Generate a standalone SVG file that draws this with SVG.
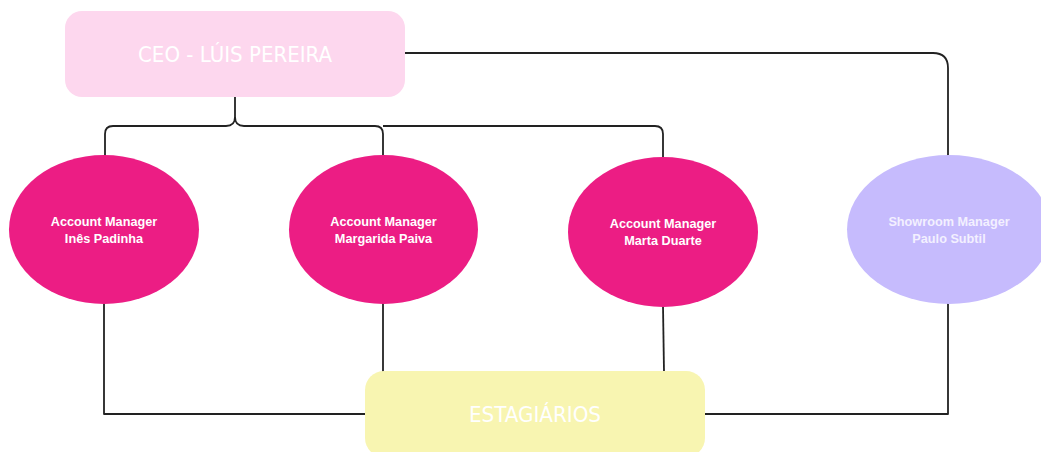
<svg xmlns="http://www.w3.org/2000/svg" width="1041" height="452" viewBox="0 0 1041 452">
  <style>
    .wire { fill: none; stroke: #222222; stroke-width: 1.8; stroke-linejoin: round; }
    .box-title { font-family: "Liberation Sans Narrow", "DejaVu Sans Condensed", "DejaVu Sans", sans-serif; fill: #ffffff; text-anchor: middle; }
    .role { font-family: "Liberation Sans", "Arial", sans-serif; font-weight: 700; font-size: 12.7px; text-anchor: middle; }
    .pink { fill: #ec1d84; }
    .lilac { fill: #c6bbfd; }
  </style>

  <!-- connectors -->
  <g id="connectors">
    <!-- CEO brace down to the three account managers -->
    <path class="wire" d="M235 97 V117 Q235 126 226 126 H113 Q105 126 105 134 V156"/>
    <path class="wire" d="M235 117 Q235 126 244 126 H375 Q383 126 383 134 V156"/>
    <path class="wire" d="M383 126 H655 Q663 126 663 134 V158"/>
    <!-- CEO to showroom manager -->
    <path class="wire" d="M404 53 H933 Q948 53 948 68 V156"/>
    <!-- managers down to interns -->
    <path class="wire" d="M104 303 V414 H366"/>
    <path class="wire" d="M383 303 V372"/>
    <path class="wire" d="M663 306 L664 372"/>
    <path class="wire" d="M948 303 V414 H704"/>
  </g>

  <g id="ceo">
    <rect x="65" y="11" width="340" height="86" rx="17" fill="#fdd7ee"/>
    <text class="box-title" x="235" y="62" font-size="21" textLength="194" lengthAdjust="spacingAndGlyphs">CEO - LÚIS PEREIRA</text>
  </g>

  <g id="am-ines">
    <ellipse class="pink" cx="104" cy="229.5" rx="95" ry="74.5"/>
    <text class="role" fill="#ffffff" x="104" y="226">Account Manager</text>
    <text class="role" fill="#ffffff" x="104" y="243">Inês Padinha</text>
  </g>

  <g id="am-margarida">
    <ellipse class="pink" cx="383.5" cy="229.5" rx="94.5" ry="74.5"/>
    <text class="role" fill="#ffffff" x="383.5" y="226">Account Manager</text>
    <text class="role" fill="#ffffff" x="383.5" y="243">Margarida Paiva</text>
  </g>

  <g id="am-marta">
    <ellipse class="pink" cx="663" cy="232" rx="95" ry="75"/>
    <text class="role" fill="#ffffff" x="663" y="228">Account Manager</text>
    <text class="role" fill="#ffffff" x="663" y="245">Marta Duarte</text>
  </g>

  <g id="showroom-manager">
    <ellipse class="lilac" cx="949" cy="229.5" rx="102" ry="74.5"/>
    <text class="role" fill="#f3f0ff" x="949" y="226">Showroom Manager</text>
    <text class="role" fill="#f3f0ff" x="949" y="243">Paulo Subtil</text>
  </g>

  <g id="estagiarios">
    <rect x="365" y="371" width="340" height="86" rx="19" fill="#f8f5b1"/>
    <text class="box-title" x="535" y="422" font-size="21" textLength="132" lengthAdjust="spacingAndGlyphs">ESTAGIÁRIOS</text>
  </g>
</svg>
